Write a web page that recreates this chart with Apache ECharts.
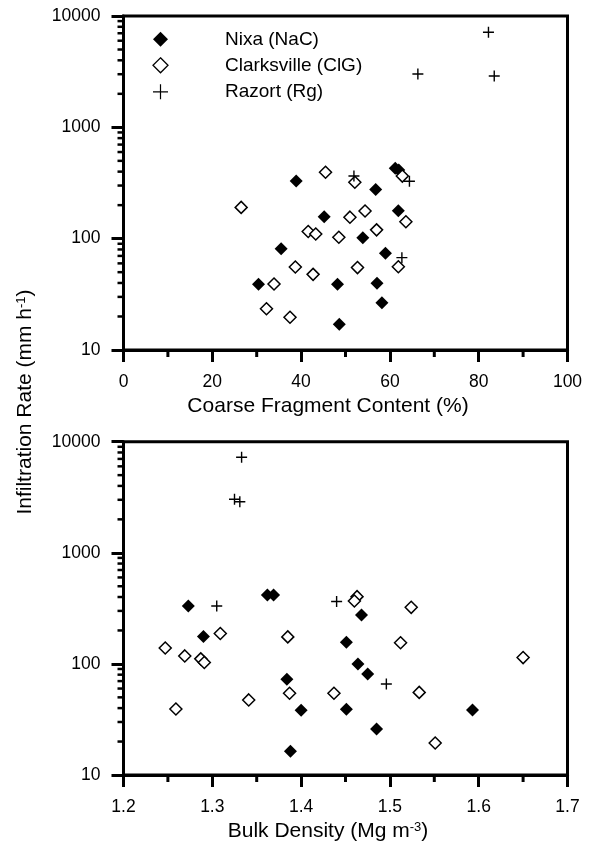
<!DOCTYPE html>
<html>
<head>
<meta charset="utf-8">
<script src="https://cdn.jsdelivr.net/npm/echarts@6/dist/echarts.min.js"></script>
<style>
  html, body { margin: 0; padding: 0; background: #fff; }
  #chart { width: 598px; height: 845px; }
</style>
</head>
<body>
<div id="chart"></div>
<script>
// infiltration rate (mm/h) vs coarse fragment content (%)
const nixaCF = [[38.9, 330], [61.2, 428], [62.0, 414], [56.8, 277], [61.9, 178], [45.2, 157], [53.9, 102],
  [35.5, 81], [59.0, 74], [30.4, 39], [48.2, 39], [57.1, 39.7], [58.2, 26.6], [48.6, 17]];
const clarkCF = [[45.5, 395], [52.1, 321], [62.8, 365], [26.5, 191], [54.4, 177], [51.0, 156], [63.6, 142],
  [41.6, 116], [43.3, 110], [57.0, 120], [48.5, 103], [38.7, 55.6], [42.7, 47.8], [52.7, 55], [61.9, 56],
  [33.9, 39.2], [32.2, 23.5], [37.5, 19.7]];
const razortCF = [[51.9, 365], [64.4, 328], [62.7, 67.5], [82.2, 7135], [83.5, 2893], [66.3, 3013]];

// infiltration rate (mm/h) vs bulk density (Mg/m3)
const nixaBD = [[1.273, 332], [1.362, 417], [1.369, 417], [1.468, 275], [1.290, 176], [1.451, 157], [1.464, 100],
  [1.475, 81], [1.384, 72.6], [1.400, 38.2], [1.451, 39], [1.593, 38.5], [1.485, 25.9], [1.388, 16.4]];
const clarkBD = [[1.463, 403], [1.460, 368], [1.309, 188], [1.385, 175], [1.247, 139], [1.269, 118], [1.287, 111],
  [1.291, 103], [1.341, 47.4], [1.387, 54.4], [1.437, 54.4], [1.259, 39.3], [1.551, 19.4], [1.524, 323],
  [1.512, 155], [1.650, 114], [1.533, 55.4]];
const razortBD = [[1.333, 7244], [1.325, 3034], [1.331, 2884], [1.305, 332], [1.440, 365], [1.496, 66]];

const soilNames = ["Nixa (NaC)", "Clarksville (ClG)", "Razort (Rg)"];

// minor tick positions
const logMinorTicks = [20, 30, 40, 50, 60, 70, 80, 90, 200, 300, 400, 500, 600, 700, 800, 900,
  2000, 3000, 4000, 5000, 6000, 7000, 8000, 9000];
const cfMinorTicks = [10, 30, 50, 70, 90];
const bdMinorTicks = [1.25, 1.35, 1.45, 1.55, 1.65];

const FONT = "'Liberation Sans', Arial, Helvetica, sans-serif";
const PLUS = "path://M0,5L10,5M5,0L5,10";

const chart = echarts.init(document.getElementById("chart"));

function xAxisOf(gridIndex, min, max, interval, name, rich) {
  return {
    type: "value",
    gridIndex: gridIndex,
    min: min,
    max: max,
    interval: interval,
    name: name,
    nameLocation: "middle",
    nameGap: 46,
    nameTextStyle: {
      fontFamily: FONT, fontSize: 21, color: "#000",
      padding: [0, 35, 0, 0],
      rich: rich,
    },
    axisLine: { lineStyle: { color: "#000", width: 3 } },
    axisTick: { length: 12, lineStyle: { color: "#000", width: 3 } },
    axisLabel: { fontFamily: FONT, fontSize: 17.5, color: "#000", margin: 23 },
    splitLine: { show: false },
  };
}

function yAxisOf(gridIndex) {
  return {
    type: "log",
    logBase: 10,
    gridIndex: gridIndex,
    min: 10,
    max: 10000,
    axisLine: { lineStyle: { color: "#000", width: 3 } },
    axisTick: { length: 12, lineStyle: { color: "#000", width: 3 } },
    axisLabel: {
      fontFamily: FONT, fontSize: 17.5, color: "#000", margin: 23,
      formatter: (v) => String(Math.round(v)),
    },
    splitLine: { show: false },
  };
}

// short outward ticks drawn through the axis scales
function yMinorTicks(idx, xMin) {
  return {
    type: "custom",
    xAxisIndex: idx,
    yAxisIndex: idx,
    silent: true,
    z: 5,
    data: logMinorTicks.map((v) => [xMin, v]),
    renderItem: (params, api) => {
      const p = api.coord([api.value(0), api.value(1)]);
      return {
        type: "line",
        shape: { x1: p[0] - 6, y1: p[1], x2: p[0], y2: p[1] },
        style: { stroke: "#000", lineWidth: 2.5 },
      };
    },
  };
}

function xMinorTicks(idx, ticks) {
  return {
    type: "custom",
    xAxisIndex: idx,
    yAxisIndex: idx,
    silent: true,
    z: 5,
    data: ticks.map((v) => [v, 10]),
    renderItem: (params, api) => {
      const p = api.coord([api.value(0), api.value(1)]);
      return {
        type: "line",
        shape: { x1: p[0], y1: p[1], x2: p[0], y2: p[1] + 7 },
        style: { stroke: "#000", lineWidth: 3 },
      };
    },
  };
}

function soilSeries(idx, nixa, clark, razort) {
  return [
    {
      name: soilNames[0], type: "scatter", xAxisIndex: idx, yAxisIndex: idx,
      symbol: "diamond", symbolSize: 13,
      itemStyle: { color: "#000", opacity: 1 },
      data: nixa,
    },
    {
      name: soilNames[1], type: "scatter", xAxisIndex: idx, yAxisIndex: idx,
      symbol: "diamond", symbolSize: 12,
      itemStyle: { color: "#fff", borderColor: "#000", borderWidth: 1.5, opacity: 1 },
      data: clark,
    },
    {
      name: soilNames[2], type: "scatter", xAxisIndex: idx, yAxisIndex: idx,
      symbol: PLUS, symbolSize: 11,
      itemStyle: { color: "none", borderColor: "#000", borderWidth: 1.4, opacity: 1 },
      data: razort,
    },
  ];
}

const sup = { fontFamily: FONT, fontSize: 13, color: "#000", verticalAlign: "top", padding: [0, 0, 8, 0] };

const option = {
  animation: false,
  backgroundColor: "#fff",
  textStyle: { fontFamily: FONT },
  grid: [
    { left: 123.5, top: 16, width: 444, height: 334, show: true, borderColor: "#000", borderWidth: 3 },
    { left: 123.5, top: 441.7, width: 444, height: 333.3, show: true, borderColor: "#000", borderWidth: 3 },
  ],
  xAxis: [
    xAxisOf(0, 0, 100, 20, "Coarse Fragment Content (%)"),
    xAxisOf(1, 1.2, 1.7, 0.1, "Bulk Density (Mg m{sup|-3})", { sup: sup }),
  ],
  yAxis: [yAxisOf(0), yAxisOf(1)],
  legend: {
    orient: "vertical",
    left: 150.5,
    top: 29.8,
    padding: 0,
    itemWidth: 15,
    itemHeight: 15,
    itemGap: 7,
    selectedMode: false,
    data: [
      { name: soilNames[0] },
      { name: soilNames[1], itemStyle: { borderWidth: 1.3 } },
      { name: soilNames[2], itemStyle: { borderWidth: 1.2 } },
    ],
    textStyle: { fontFamily: FONT, fontSize: 19, color: "#000", padding: [0, 0, 0, 52] },
  },
  graphic: [
    {
      type: "text",
      x: 25,
      y: 402,
      rotation: Math.PI / 2,
      style: {
        text: "Infiltration Rate (mm h{sup|-1})",
        font: "21px " + FONT,
        fill: "#000",
        align: "center",
        verticalAlign: "middle",
        rich: { sup: sup },
      },
    },
  ],
  series: [
    ...soilSeries(0, nixaCF, clarkCF, razortCF),
    ...soilSeries(1, nixaBD, clarkBD, razortBD),
    yMinorTicks(0, 0),
    yMinorTicks(1, 1.2),
    xMinorTicks(0, cfMinorTicks),
    xMinorTicks(1, bdMinorTicks),
  ],
};

chart.setOption(option);
</script>
</body>
</html>
